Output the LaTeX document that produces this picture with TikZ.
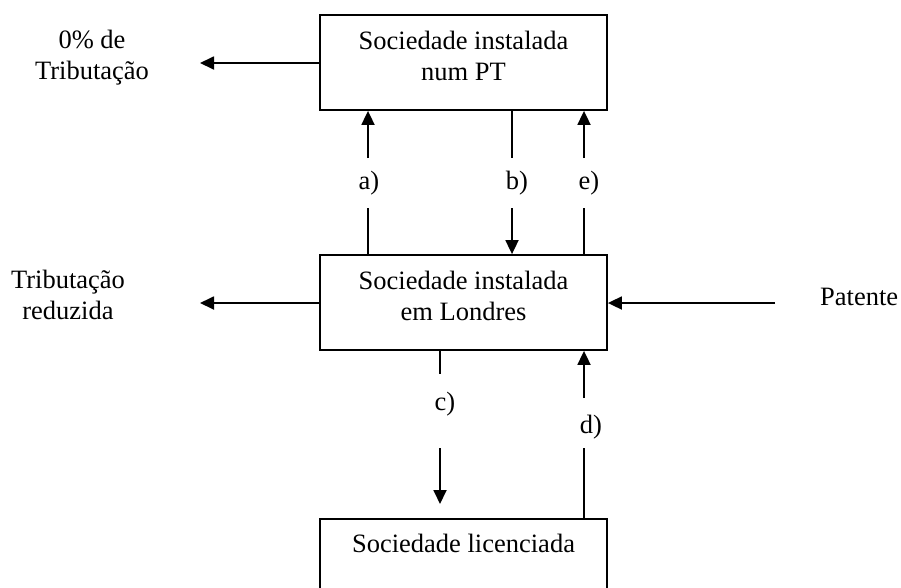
\documentclass[tikz,border=0pt]{standalone}
\usepackage{fontspec}
\setmainfont{Liberation Serif}
\usetikzlibrary{arrows.meta,calc}
\begin{document}
\begin{tikzpicture}[x=1pt,y=-1pt,
  every node/.style={font=\fontsize{26.5}{30.5}\selectfont, inner sep=0pt},
  box/.style={draw, line width=1.8pt, minimum width=287pt, minimum height=95pt},
  txt/.style={align=center, anchor=north},
  conn/.style={line width=1.8pt},
  arr/.style={conn, -{Triangle[length=14pt,width=13pt]}}]
\useasboundingbox (0,0) rectangle (901,587);
\clip (0,0) rectangle (901,587);
\fill[white] (0,0) rectangle (901,587);

% the three companies
\node[box] (pt)  at (463.5,62.5)  {};
\node[box] (lon) at (463.5,302.5) {};
\node[box] (lic) at (463.5,566.5) {};
\node[txt] (ptT)  at ($(pt.north)+(0,17)$)  {Sociedade instalada\\num PT};
\node[txt] (lonT) at ($(lon.north)+(0,17)$) {Sociedade instalada\\em Londres};
\node[txt] (licT) at ($(lic.north)+(0,16)$) {Sociedade licenciada};

% side texts
\node[txt] (zero) at (92,30)  {0\% de\\Tributação};
\node[txt] (red)  at (68,270) {Tributação\\reduzida};
\node[anchor=base west] (pat) at (820,305) {Patente};

% flow labels
\node (la) at (369,183) {a)};
\node (lb) at (517,183) {b)};
\node (le) at (589,183) {e)};
\node (lc) at (445,404) {c)};
\node (ld) at (591,427) {d)};

% columns of the vertical flows
\coordinate (xa) at (368,0);
\coordinate (xb) at (512,0);
\coordinate (xe) at (584,0);
\coordinate (xc) at (440,0);
\coordinate (xd) at (584,0);

% ends of the broken segments around the labels
\coordinate (a1) at (368,208); \coordinate (a2) at (368,158);
\coordinate (b1) at (512,158); \coordinate (b2) at (512,208);
\coordinate (e1) at (584,208); \coordinate (e2) at (584,158);
\coordinate (c1) at (440,374); \coordinate (c2) at (440,448); \coordinate (c3) at (440,504);
\coordinate (d1) at (584,448); \coordinate (d2) at (584,398);
\coordinate (zeroE) at (200,63);
\coordinate (redE)  at (200,303);
\coordinate (patE)  at (775,303);

% a)
\draw[conn] (lon.north -| xa) -- (a1);
\draw[arr] (a2) -- (pt.south -| xa);
% b)
\draw[conn] (pt.south -| xb) -- (b1);
\draw[arr] (b2) -- (lon.north -| xb);
% e)
\draw[conn] (lon.north -| xe) -- (e1);
\draw[arr] (e2) -- (pt.south -| xe);
% c)
\draw[conn] (lon.south -| xc) -- (c1);
\draw[arr] (c2) -- (c3);
% d)
\draw[conn] (lic.north -| xd) -- (d1);
\draw[arr] (d2) -- (lon.south -| xd);

% horizontal flows
\draw[arr] (pt.west |- zeroE) -- (zeroE);
\draw[arr] (lon.west |- redE) -- (redE);
\draw[arr] (patE) -- (lon.east |- patE);
\end{tikzpicture}
\end{document}
